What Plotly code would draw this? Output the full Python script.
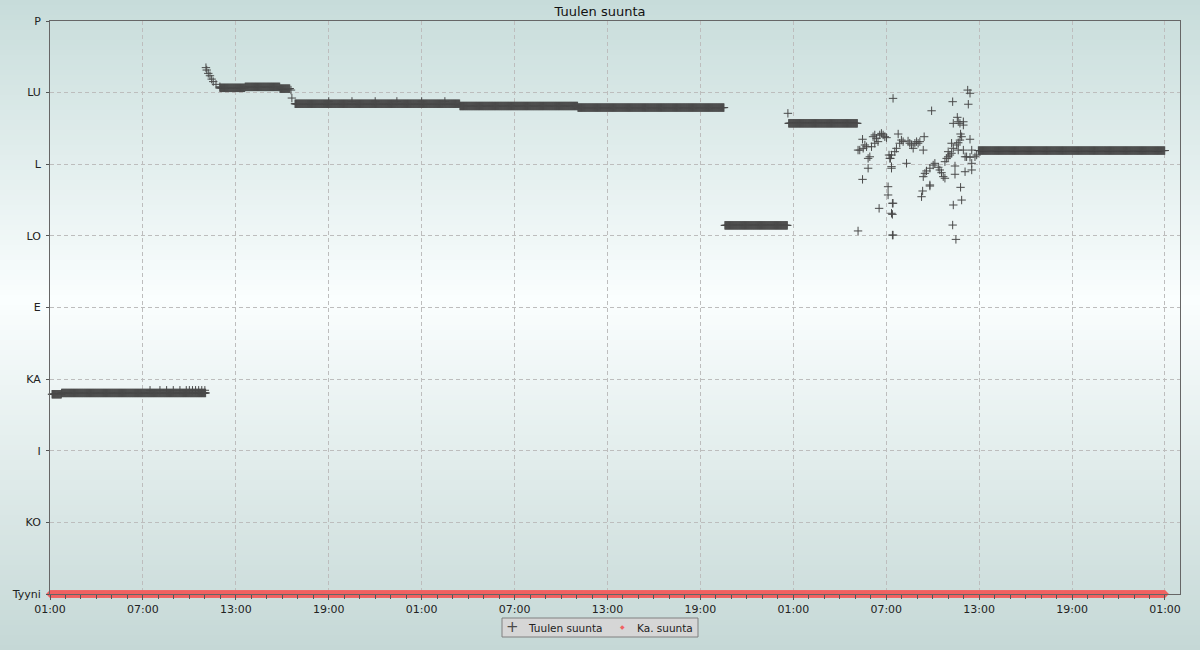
import numpy as np
import pandas as pd
import plotly.graph_objects as go

# ---------------- data (hours after start, degrees) ----------------
START = pd.Timestamp("2024-05-01 01:00")
STEP_H = 2 / 60.0  # sampling interval of the dense constant runs

# constant runs: start hour, end hour, direction (deg)
run_start_h = [0.13, 0.75, 10.97, 12.60, 14.85, 15.82, 26.47, 34.09, 43.58, 47.70, 59.95]
run_end_h   = [0.75, 10.05, 12.60, 14.85, 15.50, 26.47, 34.09, 43.55, 47.62, 52.15, 72.00]
run_value   = [125.5, 126.3, 318.0, 318.6, 317.5, 308.0, 306.6, 305.6, 231.6, 295.7, 278.6]

# isolated readings
single_h = [6.46, 7.10, 7.53, 7.96, 8.39, 8.8, 9.0, 9.2, 9.4, 9.6, 9.8, 10.0,
            10.07, 10.12, 10.22, 10.33, 10.44, 10.54, 10.72, 10.97,
            15.56, 15.62, 18.0, 19.5, 21.0, 22.4, 24.0, 25.5, 47.65,
            52.47, 52.29, 52.51, 52.62, 52.73, 52.18, 53.15, 53.26, 53.37, 53.47,
            53.26, 53.05, 53.58, 53.69, 53.80, 53.91, 54.02, 52.94, 52.83, 52.83,
            52.47, 53.54, 52.18, 54.18, 54.27, 54.34, 54.12, 54.12, 54.40, 54.34,
            54.40, 54.44, 56.93, 54.77, 54.87, 54.98, 55.09, 54.66, 54.55, 54.34,
            54.23, 55.41, 55.52, 55.63, 55.74, 55.85, 55.96, 56.06, 56.17, 56.45,
            56.39, 55.31, 54.34, 57.03, 56.82, 56.60, 56.50, 56.39, 56.82, 56.35,
            56.28, 54.44, 54.40, 54.44, 59.26, 59.41, 58.29, 59.30, 58.59, 58.65,
            58.98, 58.98, 58.33, 58.76, 58.80, 58.87, 58.76, 58.65, 58.55, 59.41,
            58.22, 58.33, 58.65, 58.98, 58.00, 59.09, 59.52, 57.79, 57.90, 58.00,
            58.11, 58.22, 57.14, 57.36, 57.46, 57.57, 57.68, 57.79, 58.44, 58.44,
            59.09, 59.52, 59.52, 59.19, 59.41, 59.73, 59.84, 56.82, 58.80, 58.87,
            58.33, 58.29, 58.50]
single_v = [128.0, 128.0, 128.0, 128.0, 128.0, 128.0, 128.0, 128.0, 128.0, 128.0, 128.0, 128.0,
            330.7, 329.2, 327.1, 325.6, 323.5, 321.9, 320.2, 318.7,
            316.6, 311.6, 309.5, 309.5, 309.5, 309.5, 309.5, 309.5, 302.0,
            285.7, 278.9, 280.0, 282.1, 281.0, 278.9, 287.3, 288.4, 286.3, 284.2,
            283.2, 281.0, 288.4, 289.4, 288.4, 287.3, 286.7, 274.7, 273.7, 267.5,
            260.5, 242.3, 228.1, 275.8, 273.7, 268.5, 255.9, 250.7, 245.5, 239.2,
            225.5, 311.4, 303.6, 289.0, 283.2, 285.2, 284.2, 280.0, 277.9, 275.8,
            273.7, 284.6, 283.2, 282.1, 280.0, 283.2, 284.2, 283.2, 284.2, 287.3,
            278.9, 270.6, 267.5, 269.5, 267.5, 265.8, 264.3, 262.2, 257.0, 253.2,
            249.6, 245.5, 238.5, 225.5, 316.6, 314.6, 309.3, 307.7, 299.5, 296.7,
            296.7, 294.6, 295.7, 295.7, 289.0, 287.3, 285.2, 283.5, 282.1, 285.7,
            283.2, 280.0, 278.9, 278.9, 277.9, 274.7, 278.9, 271.6, 273.7, 274.7,
            275.8, 276.9, 270.6, 268.1, 266.4, 264.7, 262.2, 261.2, 268.9, 263.7,
            265.3, 266.4, 270.6, 274.7, 274.4, 274.7, 275.8, 256.3, 255.5, 247.5,
            244.4, 231.8, 222.8]

# average direction series (calm / 0 over the whole period)
avg_start_h, avg_end_h, avg_value = 0.0, 72.0, 0.0
AVG_STEP_H = 2 / 60.0

series_names = ["Tuulen suunta", "Ka. suunta"]
x_range_h = [0.0, 72.97]
y_tickvals = [0, 45, 90, 135, 180, 225, 270, 315, 360]
y_ticktext = ["Tyyni", "KO", "I", "KA", "E", "LO", "L", "LU", "P"]

# ---------------- build series ----------------
hrs, vals = [], []
for s, e, v in zip(run_start_h, run_end_h, run_value):
    hs = np.arange(s, e + 1e-9, STEP_H)
    hrs.extend(hs.tolist())
    vals.extend([v] * len(hs))
hrs.extend(single_h)
vals.extend(single_v)
order = np.argsort(hrs, kind="stable")
hrs = np.asarray(hrs)[order]
vals = np.asarray(vals)[order]

def to_time(h):
    return START + pd.to_timedelta(np.asarray(h), unit="h")

avg_h = np.arange(avg_start_h, avg_end_h + 1e-9, AVG_STEP_H)
avg_v = np.full(len(avg_h), avg_value)

FONT = "DejaVu Sans"
GRAY = "#4a4a4a"
RED = "#f06262"

fig = go.Figure()
fig.add_trace(go.Scatter(
    x=to_time(hrs), y=vals, mode="markers", name=series_names[0],
    marker=dict(symbol="cross-thin-open", size=6, color=GRAY,
                line=dict(width=1, color=GRAY)),
    cliponaxis=False, showlegend=False,
))
fig.add_trace(go.Scatter(
    x=to_time(avg_h), y=avg_v, mode="markers", name=series_names[1],
    marker=dict(symbol="diamond", size=6, color=RED, line=dict(width=0)),
    cliponaxis=False, showlegend=False,
))

# ---------------- background gradient ----------------
W, H = 1200, 650
L, R, T, B = 50, 20, 21, 56
pw, ph = W - L - R, H - T - B

def px_x(px):
    return (px - L) / pw

def px_y(py):
    return (H - B - py) / ph

top_c = np.array([199, 220, 218])
mid_c = np.array([250, 254, 254])
bot_c = np.array([197, 216, 214])
mid_y = 300
shapes = []
band = 5
for py in range(0, H, band):
    c = py + band / 2
    if c <= mid_y:
        t = c / mid_y
        col = top_c + (mid_c - top_c) * t
    else:
        t = (c - mid_y) / (H - mid_y)
        col = mid_c + (bot_c - mid_c) * t
    col = col.round().astype(int)
    shapes.append(dict(
        type="rect", xref="paper", yref="paper", layer="below",
        x0=px_x(-5), x1=px_x(W + 5),
        y0=px_y(py + band + 0.5), y1=px_y(py),
        fillcolor=f"rgb({col[0]},{col[1]},{col[2]})", line=dict(width=0),
    ))

# ---------------- legend box (drawn by hand for a compact layout) ----------------
shapes.append(dict(
    type="rect", xref="paper", yref="paper", layer="above",
    x0=px_x(502), x1=px_x(698), y0=px_y(637), y1=px_y(618),
    fillcolor="#d6d6d6", line=dict(width=1, color="#808080"),
))
leg_y = px_y(627.5)
annotations = [
    dict(text="+", x=px_x(512), y=px_y(626.5), xref="paper", yref="paper",
         xanchor="center", yanchor="middle", showarrow=False,
         font=dict(family=FONT, size=15, color=GRAY)),
    dict(text=series_names[0], x=px_x(526), y=leg_y, xref="paper", yref="paper",
         xanchor="left", yanchor="middle", showarrow=False,
         font=dict(family=FONT, size=10.5, color="#222222")),
    dict(text="◆", x=px_x(622), y=px_y(627), xref="paper", yref="paper",
         xanchor="center", yanchor="middle", showarrow=False,
         font=dict(family=FONT, size=6, color=RED)),
    dict(text=series_names[1], x=px_x(635), y=leg_y, xref="paper", yref="paper",
         xanchor="left", yanchor="middle", showarrow=False,
         font=dict(family=FONT, size=10.5, color="#222222")),
]

fig.update_layout(
    width=W, height=H, autosize=False,
    margin=dict(l=L, r=R, t=T, b=B, pad=0, autoexpand=False),
    paper_bgcolor="rgb(225,237,236)",
    plot_bgcolor="rgba(0,0,0,0)",
    shapes=shapes,
    annotations=annotations,
    font=dict(family=FONT, size=11, color="#222222"),
    title=dict(text="Tuulen suunta", x=0.5, xanchor="center", xref="container",
               y=1 - 11 / H, yref="container", yanchor="middle",
               font=dict(family=FONT, size=13, color="#111111")),
    showlegend=False,
)

fig.update_xaxes(
    type="date", range=[to_time(x_range_h[0]), to_time(x_range_h[1])],
    tick0=START, dtick=6 * 3600 * 1000, tickformat="%H:%M",
    ticks="outside", ticklen=5, tickcolor="#555555", tickwidth=1,
    showline=True, linecolor="#666666", linewidth=1, mirror=True,
    showgrid=True, gridcolor="#bdbdbd", gridwidth=1, griddash="4px,3px",
    zeroline=False, tickfont=dict(family=FONT, size=11, color="#222222"),
    minor=dict(dtick=3600 * 1000, tick0=START, ticks="outside", ticklen=4,
               tickcolor="#555555", showgrid=False),
)
fig.update_yaxes(
    range=[0, 360], tickvals=y_tickvals, ticktext=y_ticktext,
    ticks="outside", ticklen=3, tickcolor="#555555", ticklabelstandoff=3,
    showline=True, linecolor="#666666", linewidth=1, mirror=True,
    showgrid=True, gridcolor="#bdbdbd", gridwidth=1, griddash="4px,3px",
    zeroline=False, tickfont=dict(family=FONT, size=11, color="#222222"),
)

fig.write_html("out.html", config={"displayModeBar": False},
               post_script="document.body.style.margin='0px';")
